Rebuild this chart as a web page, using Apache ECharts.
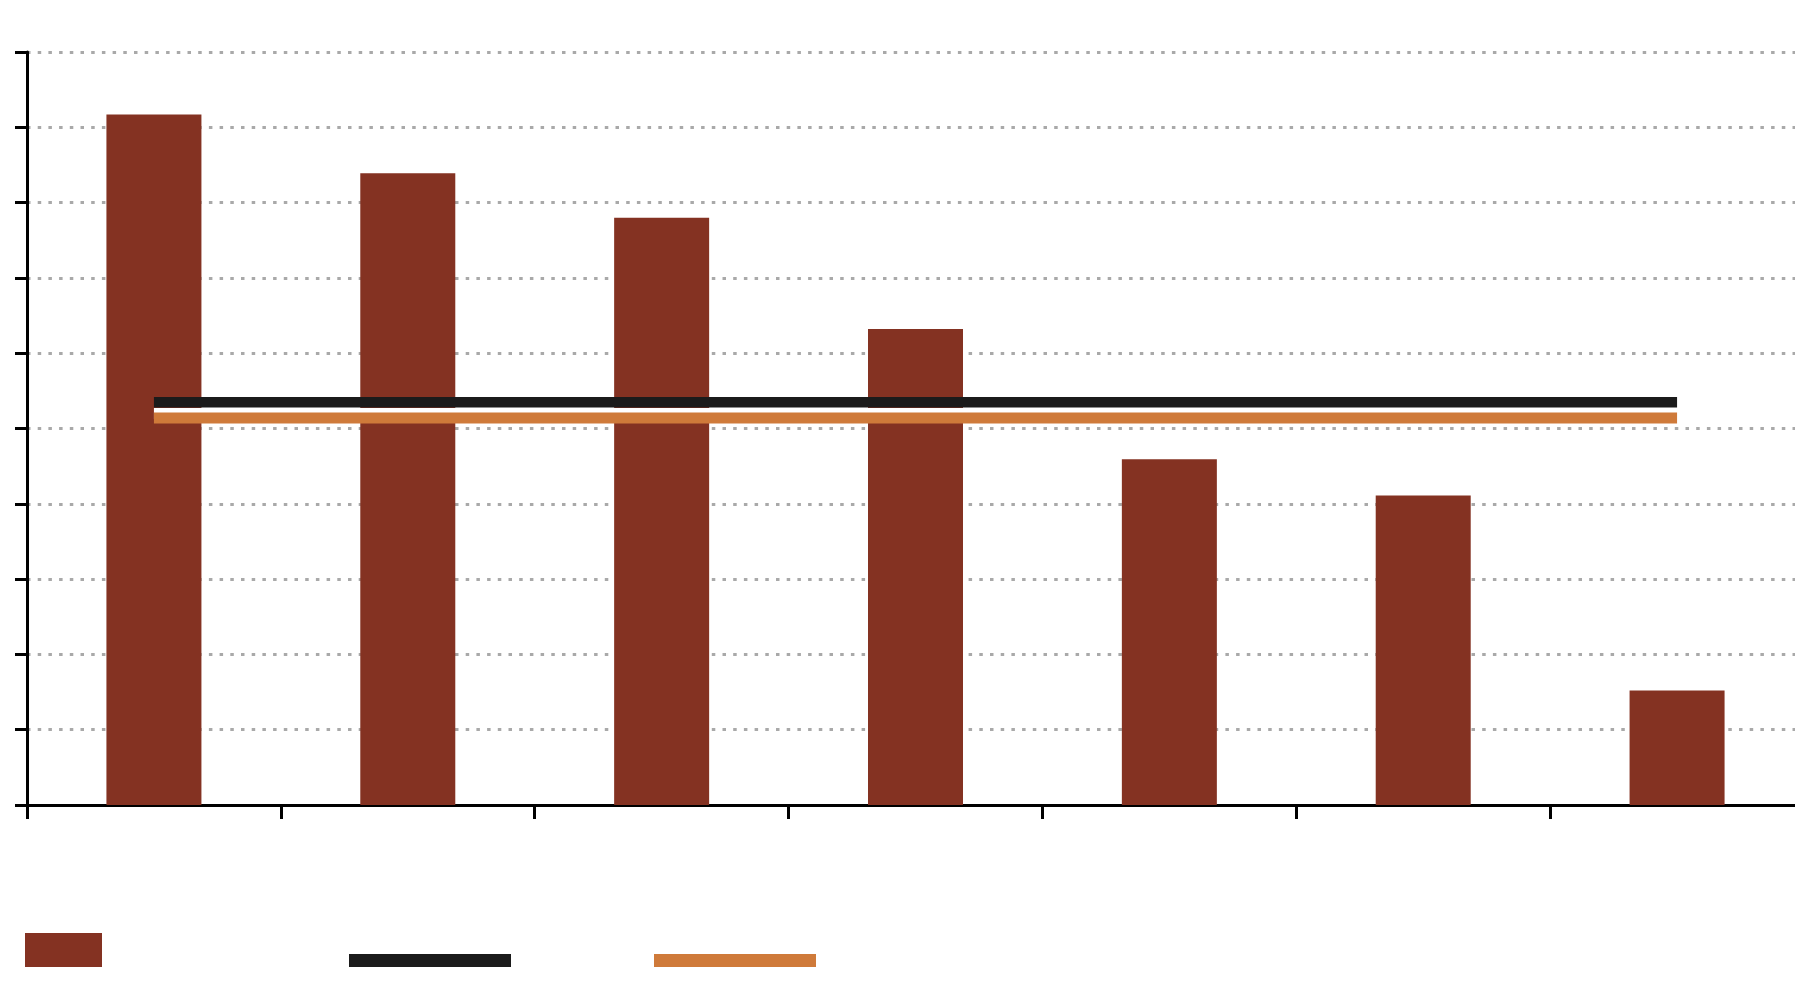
<!DOCTYPE html>
<html>
<head>
<meta charset="utf-8">
<script src="https://cdn.jsdelivr.net/npm/echarts@6/dist/echarts.min.js"></script>
<style>
html,body{margin:0;padding:0;background:#fff;overflow:hidden;}
#chart{width:1795px;height:987px;}
</style>
</head>
<body>
<div id="chart"></div>
<script>
// Data (the reference carries no text labels)
const categories = ['1', '2', '3', '4', '5', '6', '7'];
const barValues = [91.7, 83.9, 78.0, 63.2, 45.9, 41.1, 15.2];
const blackLineValue = 53.5;
const orangeLineValue = 51.4;
const blackLine = categories.map(() => blackLineValue);
const orangeLine = categories.map(() => orangeLineValue);
const yTicks = [0, 10, 20, 30, 40, 50, 60, 70, 80, 90, 100];

const BAR = '#843222', BLACK = '#1b1b1b', ORANGE = '#cf7a3a';

const chart = echarts.init(document.getElementById('chart'), null, {renderer: 'canvas'});
chart.setOption({
  animation: false,
  backgroundColor: '#ffffff',
  grid: {left: 27, width: 1777, top: 52, bottom: 182, containLabel: false, outerBoundsMode: 'none'},
  legend: [
    {left: 25, top: 933, padding: 0, itemWidth: 77, itemHeight: 34, formatter: () => '',
     data: [{name: 'bars', icon: 'rect', itemStyle: {color: BAR}}], selectedMode: false},
    {left: 349, top: 954, padding: 0, itemWidth: 162, itemHeight: 13, formatter: () => '',
     data: [{name: 'black', icon: 'rect', itemStyle: {color: BLACK, shadowColor: 'rgba(0,0,0,0)', shadowBlur: 0}}], selectedMode: false},
    {left: 654, top: 954, padding: 0, itemWidth: 162, itemHeight: 13, formatter: () => '',
     data: [{name: 'orange', icon: 'rect', itemStyle: {color: ORANGE, shadowColor: 'rgba(0,0,0,0)', shadowBlur: 0}}], selectedMode: false}
  ],
  xAxis: {
    type: 'category',
    data: categories,
    boundaryGap: true,
    axisLine: {show: true, lineStyle: {color: '#000', width: 3}},
    axisTick: {show: true, length: 14, lineStyle: {color: '#000', width: 3}},
    axisLabel: {show: false},
    splitLine: {show: false}
  },
  yAxis: {
    type: 'value',
    min: yTicks[0],
    max: yTicks[yTicks.length - 1],
    interval: 10,
    axisLine: {show: true, lineStyle: {color: '#000', width: 3}},
    axisTick: {show: true, length: 12, lineStyle: {color: '#000', width: 3}},
    axisLabel: {show: false},
    splitLine: {show: true, lineStyle: {color: '#a9a9a9', width: 3, type: [3.5, 7.2]}}
  },
  series: [
    {
      name: 'bars', type: 'bar', data: barValues, barWidth: 95,
      itemStyle: {color: BAR}
    },
    {
      name: 'black', type: 'line', data: blackLine, symbol: 'none',
      itemStyle: {color: BLACK},
      lineStyle: {color: BLACK, width: 10.5, cap: 'butt'}
    },
    {
      name: 'orange', type: 'line', data: orangeLine, symbol: 'none',
      itemStyle: {color: ORANGE},
      lineStyle: {color: ORANGE, width: 11, cap: 'butt',
        shadowColor: '#ffffff', shadowBlur: 0, shadowOffsetY: -4.5}
    }
  ]
});
</script>
</body>
</html>
